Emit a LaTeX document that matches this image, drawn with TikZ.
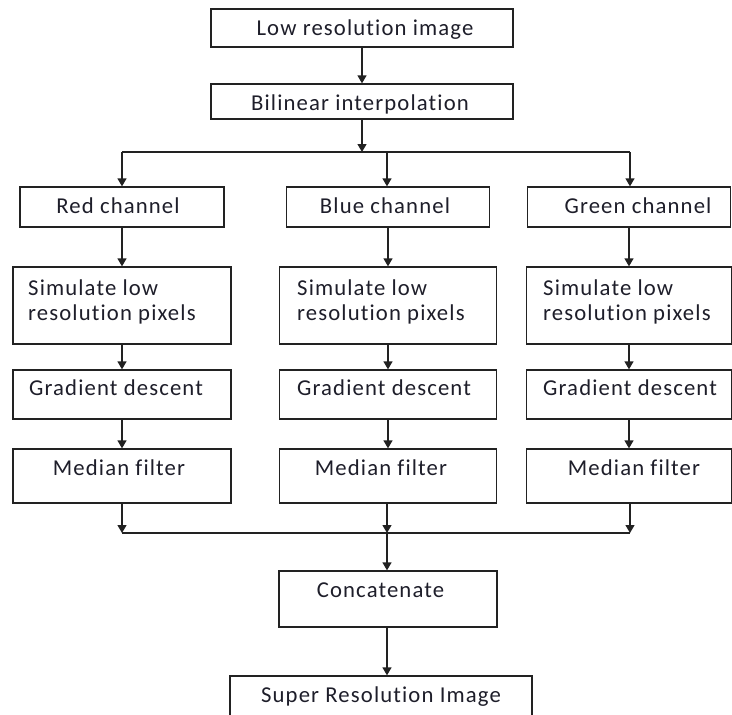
\documentclass[tikz,border=0pt]{standalone}
\usepackage{fontspec}
\setmainfont{Carlito}[LetterSpace=5, Ligatures={NoCommon}]
\usetikzlibrary{arrows.meta}
\definecolor{ln}{HTML}{222222}
\definecolor{tx}{HTML}{1E1E2A}
\tikzset{
  box/.style={draw=ln, line width=1.3pt, fill=white, inner sep=0pt},
  lbl/.style={text=tx, inner sep=0pt, font=\fontsize{22.7}{25.5}\selectfont},
  conn/.style={draw=ln, line width=1.3pt},
  arr/.style={conn, -{Triangle[width=9pt,length=8pt]}}
}
\begin{document}
\begin{tikzpicture}[x=1pt,y=-1pt]
\useasboundingbox (0,0) rectangle (732,715);
\clip (0,0) rectangle (732,715);
% boxes
\node[box, minimum width=302pt, minimum height=38pt] (low) at (362,28) {};
\node[box, minimum width=302pt, minimum height=35pt] (bil) at (362,101.5) {};
\node[box, minimum width=204pt, minimum height=40pt] (red) at (122,207) {};
\node[box, minimum width=203pt, minimum height=40pt] (blue) at (388,207) {};
\node[box, minimum width=203pt, minimum height=40pt] (green) at (629,207) {};
\node[box, minimum width=218pt, minimum height=77pt] (simR) at (122,305.5) {};
\node[box, minimum width=217pt, minimum height=77pt] (simB) at (388,305.5) {};
\node[box, minimum width=205pt, minimum height=77pt] (simG) at (629,305.5) {};
\node[box, minimum width=218pt, minimum height=49pt] (gradR) at (122,394.5) {};
\node[box, minimum width=217pt, minimum height=49pt] (gradB) at (388,394.5) {};
\node[box, minimum width=205pt, minimum height=49pt] (gradG) at (629,394.5) {};
\node[box, minimum width=218pt, minimum height=54pt] (medR) at (122,476) {};
\node[box, minimum width=217pt, minimum height=54pt] (medB) at (388,476) {};
\node[box, minimum width=205pt, minimum height=54pt] (medG) at (629,476) {};
\node[box, minimum width=218pt, minimum height=56pt] (cat) at (388,599) {};
\node[box, minimum width=302pt, minimum height=56pt] (sup) at (381,704) {};
% texts
\node[lbl, anchor=base] (tlow) at (365,35) {Low resolution image};
\node[lbl, anchor=base] (tbil) at (360,110) {Bilinear interpolation};
\node[lbl, anchor=base] (tred) at (118,213) {Red channel};
\node[lbl, anchor=base] (tblue) at (385,213) {Blue channel};
\node[lbl, anchor=base] (tgreen) at (638,213) {Green channel};
\node[lbl, anchor=base west] (tsimR) at (28,295) {\begin{tabular}[t]{@{}l@{}}Simulate low\\resolution pixels\end{tabular}};
\node[lbl, anchor=base west] (tsimB) at (297,295) {\begin{tabular}[t]{@{}l@{}}Simulate low\\resolution pixels\end{tabular}};
\node[lbl, anchor=base west] (tsimG) at (543,295) {\begin{tabular}[t]{@{}l@{}}Simulate low\\resolution pixels\end{tabular}};
\node[lbl, anchor=base west] (tgradR) at (29,395) {Gradient descent};
\node[lbl, anchor=base west] (tgradB) at (297,395) {Gradient descent};
\node[lbl, anchor=base west] (tgradG) at (543,395) {Gradient descent};
\node[lbl, anchor=base] (tmedR) at (119,475) {Median filter};
\node[lbl, anchor=base] (tmedB) at (381,475) {Median filter};
\node[lbl, anchor=base] (tmedG) at (634,475) {Median filter};
\node[lbl, anchor=base] (tcat) at (380.5,597) {Concatenate};
\node[lbl, anchor=base] (tsup) at (381,702) {Super Resolution Image};
% junctions
\coordinate (jt) at (362,152);
\coordinate (jtl) at (122,152);
\coordinate (jtr) at (630,152);
\coordinate (jtm) at (387,152);
\coordinate (jb) at (387,533);
\coordinate (jbl) at (122,533);
\coordinate (jbr) at (630,533);
% connectors
\draw[arr] (low) -- (bil);
\draw[arr] (bil) -- (jt);
\draw[conn] (jtl) -- (jtr);
\draw[arr] (jtl) -- (jtl |- red.north);
\draw[arr] (jtm) -- (jtm |- blue.north);
\draw[arr] (jtr) -- (jtr |- green.north);
\draw[arr] (red) -- (simR);
\draw[arr] (blue) -- (simB);
\draw[arr] (green) -- (simG);
\draw[arr] (simR) -- (gradR);
\draw[arr] (simB) -- (gradB);
\draw[arr] (simG) -- (gradG);
\draw[arr] (gradR) -- (medR);
\draw[arr] (gradB) -- (medB);
\draw[arr] (gradG) -- (medG);
\draw[arr] (medR.south -| jbl) -- (jbl);
\draw[arr] (medB.south -| jb) -- (jb);
\draw[arr] (medG.south -| jbr) -- (jbr);
\draw[conn] (jbl) -- (jbr);
\draw[arr] (jb) -- (jb |- cat.north);
\draw[arr] (cat.south -| jb) -- (jb |- sup.north);
\end{tikzpicture}
\end{document}
